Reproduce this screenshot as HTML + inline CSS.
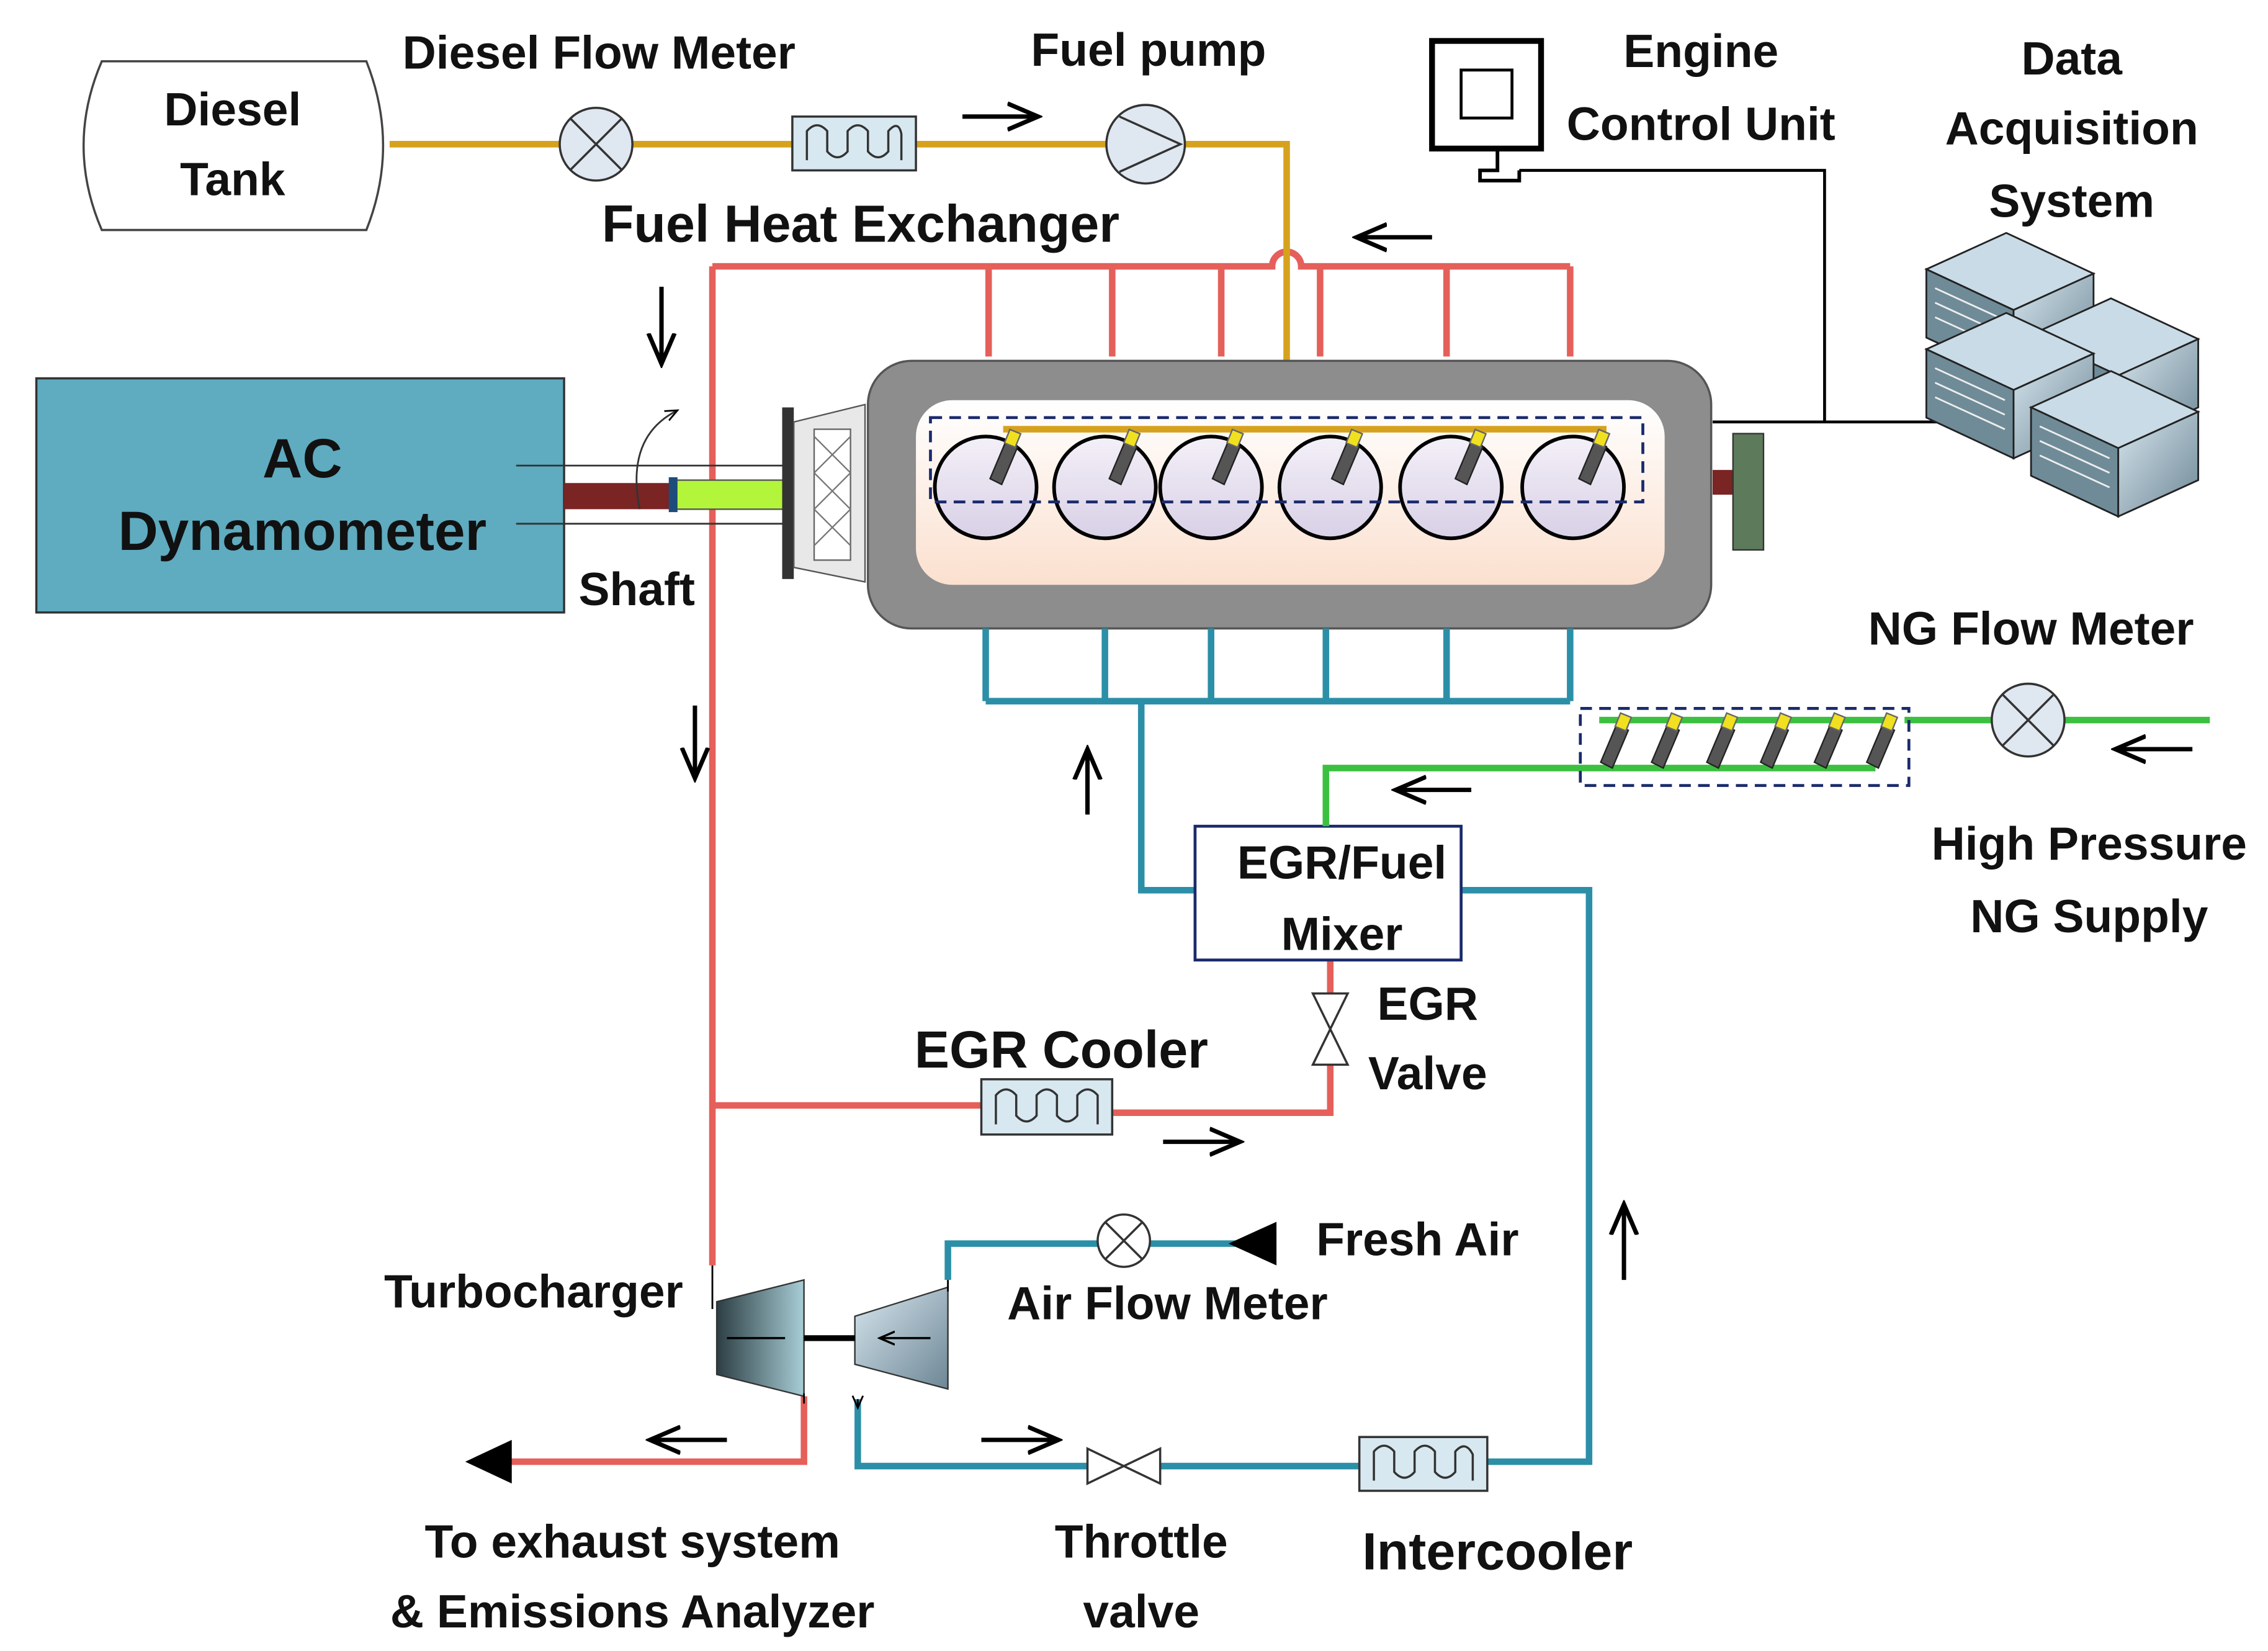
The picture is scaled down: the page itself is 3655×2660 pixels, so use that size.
<!DOCTYPE html>
<html><head><meta charset="utf-8"><style>
html,body{margin:0;padding:0;background:#fff;}
svg{display:block}
text{font-family:"Liberation Sans",sans-serif;fill:#111;text-anchor:middle}
</style></head><body>
<svg width="3655" height="2660" viewBox="0 0 1560 1135" xmlns="http://www.w3.org/2000/svg">
<defs>
<linearGradient id="eg" x1="0" y1="0" x2="0" y2="1"><stop offset="0" stop-color="#fff"/><stop offset="1" stop-color="#fbe0cf"/></linearGradient>
<linearGradient id="cg" x1="0" y1="0" x2="0" y2="1"><stop offset="0" stop-color="#f4f0f8"/><stop offset="1" stop-color="#d8d0e6"/></linearGradient>
<linearGradient id="tg" x1="0" y1="0" x2="1" y2="0"><stop offset="0" stop-color="#2c3e44"/><stop offset="1" stop-color="#a8cdd6"/></linearGradient>
<linearGradient id="sg" x1="0" y1="0" x2="1" y2="1"><stop offset="0" stop-color="#d7e6ee"/><stop offset="1" stop-color="#6d8796"/></linearGradient>
<marker id="ah" markerWidth="8" markerHeight="8" refX="7" refY="4" orient="auto" markerUnits="strokeWidth"><path d="M0,1 L7,4 L0,7" fill="none" stroke="#000" stroke-width="1"/></marker>
<g id="inj"><path d="M-3,-2 L5,2 L-6,28 L-14,24Z" fill="#555" stroke="#222"/><rect x="-4" y="-9" width="8" height="10" fill="#f0e020" stroke="#666" transform="rotate(22)"/></g>
<g id="srv" stroke="#222" stroke-width="1.2"><path d="M0,25 L55,0 L115,28 L60,53Z" fill="#c8dbe6"/><path d="M0,25 L60,53 V100 L0,72Z" fill="#6f8b98"/><path d="M60,53 L115,28 V75 L60,100Z" fill="url(#sg)"/><path d="M6,38 L54,60 M6,48 L54,70 M6,58 L54,80" stroke="#eee"/></g>
</defs>
<g font-size="32" font-weight="600">
<!-- Diesel tank -->
<path d="M70,42 H252 Q275,100 252,158 H70 Q45,100 70,42 Z" fill="#fff" stroke="#444" stroke-width="1.5"/>
<text x="160" y="86">Diesel</text><text x="160" y="134">Tank</text>
<text x="412" y="47">Diesel Flow Meter</text>
<text x="790" y="45">Fuel pump</text>
<text x="592" y="166" font-size="36">Fuel Heat Exchanger</text>

<g stroke="#e5605a" stroke-width="4.5" fill="none">
<path d="M490,183 H875 A10,10 0 0 1 895,183 H1080"/>
<path d="M680,183V245M765,183V245M840,183V245M908,183V245M995,183V245M1080,183V245"/>
<path d="M490,183 V870"/>
<path d="M490,760 H675 M765,765 H915 V732 M915,683 V660"/>
<path d="M553,960 V1005 H345"/>
</g>
<path d="M320,1005 L352,990 L352,1020Z" fill="#000"/>

<g stroke="#d6a21e" stroke-width="4.5" fill="none">
<path d="M268,99 H885 V295"/>
<path d="M690,295 H1105"/>
</g>
<circle cx="410" cy="99" r="25" fill="#dfe7f1" stroke="#333" stroke-width="1.5"/>
<path d="M392,81 L428,117 M428,81 L392,117" stroke="#333" stroke-width="1.5"/>
<rect x="545" y="80" width="85" height="37" fill="#d8e8f0" stroke="#333" stroke-width="1.5"/>
<path d="M555,110 V90 Q562,82 569,90 V104 Q576,112 583,104 V90 Q590,82 597,90 V104 Q604,112 611,104 V90 Q618,82 620,92 V110" fill="none" stroke="#333" stroke-width="1.5"/>
<circle cx="788" cy="99" r="27" fill="#dfe7f1" stroke="#333" stroke-width="1.5"/>
<path d="M770,80 L812,99 L770,118" fill="none" stroke="#333" stroke-width="1.5"/>

<g stroke="#000" stroke-width="3" fill="none" marker-end="url(#ah)">
<path d="M662,80 H714"/><path d="M985,163 H933"/><path d="M455,197 V250"/><path d="M478,485 V535"/>
<path d="M748,560 V515"/><path d="M800,785 H853"/><path d="M1117,880 V828"/><path d="M1012,543 H960"/>
<path d="M1508,515 H1455"/><path d="M675,990 H728"/><path d="M500,990 H447"/>
</g>

<rect x="25" y="260" width="363" height="161" fill="#5fabc0" stroke="#333" stroke-width="1.5"/>
<text x="208" y="328" font-size="38" font-weight="bold">AC</text>
<text x="208" y="378" font-size="38" font-weight="bold">Dynamometer</text>
<rect x="388" y="332" width="75" height="18" fill="#7a2424"/>
<rect x="463" y="330" width="85" height="20" fill="#b3f53a" stroke="#555"/>
<rect x="460" y="328" width="6" height="24" fill="#1d4d7a"/>
<path d="M355,320 H545 M355,360 H545" stroke="#333" stroke-width="1.2"/>
<path d="M440,350 Q430,300 466,282" fill="none" stroke="#333" stroke-width="1.2" marker-end="url(#ah)"/>
<text x="438" y="416">Shaft</text>
<rect x="538" y="280" width="8" height="118" fill="#333"/>
<path d="M546,290 L595,278 V400 L546,390Z" fill="#e8e8e8" stroke="#555"/>
<rect x="560" y="295" width="25" height="90" fill="#fff" stroke="#666"/>
<path d="M560,300 L585,325 M560,325 L585,350 M560,350 L585,375 M585,300 L560,325 M585,325 L560,350 M585,350 L560,375" stroke="#777" stroke-width="1"/>

<rect x="597" y="248" width="580" height="184" rx="30" fill="#8d8d8d" stroke="#555" stroke-width="1.5"/>
<rect x="630" y="275" width="515" height="127" rx="25" fill="url(#eg)"/>
<g stroke="#000" stroke-width="2.5" fill="url(#cg)">
<circle cx="678" cy="335" r="35"/><circle cx="760" cy="335" r="35"/><circle cx="833" cy="335" r="35"/>
<circle cx="915" cy="335" r="35"/><circle cx="998" cy="335" r="35"/><circle cx="1082" cy="335" r="35"/>
</g>
<path d="M690,295 H1105" stroke="#d6a21e" stroke-width="4.5"/>
<use href="#inj" x="695" y="305"/><use href="#inj" x="777" y="305"/><use href="#inj" x="848" y="305"/>
<use href="#inj" x="930" y="305"/><use href="#inj" x="1015" y="305"/><use href="#inj" x="1100" y="305"/>
<rect x="640" y="287" width="490" height="58" fill="none" stroke="#1a2a6c" stroke-width="2" stroke-dasharray="8,5"/>
<rect x="1178" y="323" width="14" height="17" fill="#7a2424"/>
<rect x="1192" y="298" width="21" height="80" fill="#5d7a5a" stroke="#333"/>

<rect x="985" y="28" width="75" height="74" fill="#fff" stroke="#000" stroke-width="4"/>
<rect x="1005" y="48" width="35" height="33" fill="#fff" stroke="#000" stroke-width="2"/>
<path d="M1030,102 V117 H1018 V124 H1045 V117" fill="none" stroke="#000" stroke-width="2.5"/>
<path d="M1045,117 H1255 V290 M1178,290 H1380" fill="none" stroke="#000" stroke-width="2"/>
<text x="1170" y="46">Engine</text><text x="1170" y="96">Control Unit</text>
<text x="1425" y="51">Data</text><text x="1425" y="99">Acquisition</text><text x="1425" y="149">System</text>
<use href="#srv" x="1325" y="160"/><use href="#srv" x="1397" y="205"/>
<use href="#srv" x="1325" y="215"/><use href="#srv" x="1397" y="255"/>

<g stroke="#2c8fa8" stroke-width="4.5" fill="none">
<path d="M678,432V482M760,432V482M833,432V482M912,432V482M995,432V482M1080,432V482M678,482H1080"/>
<path d="M785,482 V612 H822"/>
<path d="M1005,612 H1093 V1005 H1023 M935,1008 H798 M748,1008 H590 V962"/>
<path d="M652,880 V855 H755 M791,855 H850"/>
</g>
<path d="M845,855 L878,840 V870Z" fill="#000"/>
<circle cx="773" cy="853" r="18" fill="#fff" stroke="#333" stroke-width="1.5"/>
<path d="M760,840 L786,866 M786,840 L760,866" stroke="#333" stroke-width="1.5"/>
<text x="975" y="863">Fresh Air</text>
<text x="803" y="907">Air Flow Meter</text>
<rect x="822" y="568" width="183" height="92" fill="#fff" stroke="#1a2a6c" stroke-width="2"/>
<text x="923" y="604">EGR/Fuel</text><text x="923" y="653">Mixer</text>
<path d="M903,683 H927 L903,732 H927Z" fill="#fff" stroke="#333" stroke-width="1.5"/>
<text x="982" y="701">EGR</text><text x="982" y="749">Valve</text>
<rect x="675" y="742" width="90" height="38" fill="#d8e8f0" stroke="#333" stroke-width="1.5"/>
<path d="M685,773 V753 Q692,745 699,753 V767 Q706,775 713,767 V753 Q720,745 727,753 V767 Q734,775 741,767 V753 Q748,745 755,753 V773" fill="none" stroke="#333" stroke-width="1.5"/>
<text x="730" y="734" font-size="36">EGR Cooler</text>
<rect x="935" y="988" width="88" height="37" fill="#d8e8f0" stroke="#333" stroke-width="1.5"/>
<path d="M945,1018 V998 Q952,990 959,998 V1012 Q966,1020 973,1012 V998 Q980,990 987,998 V1012 Q994,1020 1001,1012 V998 Q1008,990 1013,1000 V1018" fill="none" stroke="#333" stroke-width="1.5"/>
<text x="1030" y="1079" font-size="36" font-weight="bold">Intercooler</text>
<path d="M748,996 V1020 L798,996 V1020Z" fill="#fff" stroke="#333" stroke-width="1.5"/>
<text x="785" y="1071">Throttle</text><text x="785" y="1119">valve</text>
<text x="435" y="1071">To exhaust system</text><text x="435" y="1119">&amp; Emissions Analyzer</text>

<path d="M493,895 L553,880 V960 L493,945Z" fill="url(#tg)" stroke="#333"/>
<path d="M588,905 L652,885 V955 L588,938Z" fill="url(#sg)" stroke="#333"/>
<path d="M553,920 H588" stroke="#000" stroke-width="4"/>
<path d="M500,920 H540 M640,920 H605" stroke="#000" stroke-width="1.5" marker-end="url(#ah)"/>
<path d="M490,870 V900 M652,880 V888 M553,958 V965 M590,962 V968" stroke="#000" stroke-width="1.2" marker-end="url(#ah)"/>
<text x="367" y="899">Turbocharger</text>

<g stroke="#3cc040" stroke-width="4.5" fill="none">
<path d="M1310,495 H1520"/><path d="M1290,528 H912 V568"/>
</g>
<circle cx="1395" cy="495" r="25" fill="#dfe7f1" stroke="#333" stroke-width="1.5"/>
<path d="M1377,477 L1413,513 M1413,477 L1377,513" stroke="#333" stroke-width="1.5"/>
<rect x="1087" y="487" width="226" height="53" fill="none" stroke="#1a2a6c" stroke-width="2" stroke-dasharray="8,5"/>
<path d="M1100,495 H1300" stroke="#3cc040" stroke-width="4.5"/>
<use href="#inj" x="1115" y="500"/><use href="#inj" x="1150" y="500"/><use href="#inj" x="1188" y="500"/>
<use href="#inj" x="1225" y="500"/><use href="#inj" x="1262" y="500"/><use href="#inj" x="1298" y="500"/>
<text x="1397" y="443">NG Flow Meter</text>
<text x="1437" y="591">High Pressure</text><text x="1437" y="641">NG Supply</text>
</g>
</svg>
</body></html>
